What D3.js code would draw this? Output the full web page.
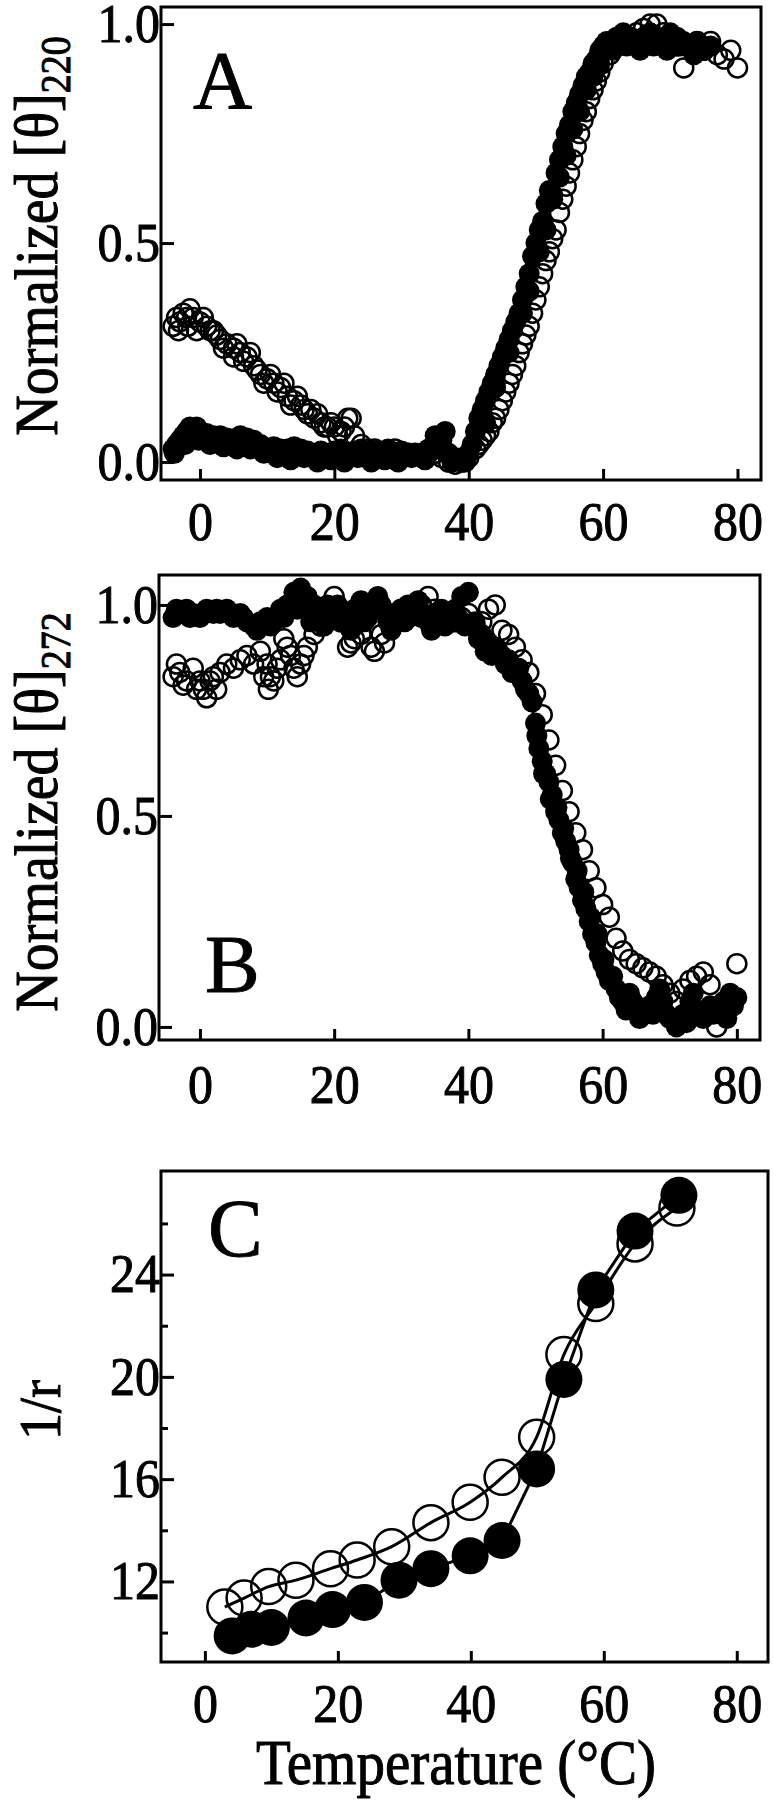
<!DOCTYPE html>
<meta charset="utf-8">
<style>
  body { margin: 0; background: #fff; }
  text { font-family: "Liberation Serif", "Times New Roman", serif; fill: #000; }
</style>
<body>
<script src="https://cdn.jsdelivr.net/npm/d3@7/dist/d3.min.js"></script>
<script>

    var width = 773,
        height = 1800;

    // panel A : [theta]220, filled and open symbols
    var tempA_filled = [-4,-3.5,-3,-2.5,-2,-1.5,-1,-0.5,0,1,2,3,4,5,6,7,8,9,10,11,12,13,14,15,16,17,18,19,20,21,22,23,24,25,26,27,28,29,30,31,32,33,34,35,36,37,38,39,40,40.5,41,41.5,42,42.5,43,43.5,44,44.5,45,45.5,46,46.5,47,47.5,48,48.5,49,49.5,50,50.5,51,51.5,52,52.5,53,53.5,54,54.5,55,55.5,56,56.5,57,57.5,58,58.5,59,59.5,60,60.5,61,62,63,64,65,66,67,68,69,70,71,72,73,74,75,76,
        -3.8,-2.2,-0.2,1.5,3.5,5.5,7.5,9.5,11.5,13.5,15.5,17.5,19.5,21.5,23.5,25.5,27.5,29.5,31.5,33.5,35.5,36.5,37.5,39.5,
        42.5,44,46,48,49,50.5,51.5,52.5,53.5,54.5,55.5,56.5,57.5,58.5,59.5,61.5,63.5,65.5,67.5,69.5,71.5,73.5];
    var valA_filled = [0.03,0.04,0.05,0.06,0.07,0.08,0.075,0.08,0.07,0.065,0.06,0.06,0.055,0.05,0.06,0.055,0.05,0.04,0.03,0.035,0.03,0.03,0.035,0.03,0.025,0.02,0.025,0.02,0.025,0.03,0.02,0.025,0.03,0.02,0.025,0.02,0.03,0.02,0.025,0.02,0.015,0.02,0.03,0.06,0.05,0.02,0.01,0.01,0.02,0.04,0.07,0.1,0.12,0.14,0.16,0.18,0.2,0.22,0.24,0.26,0.28,0.3,0.32,0.34,0.37,0.4,0.43,0.47,0.5,0.53,0.55,0.59,0.62,0.61,0.66,0.69,0.72,0.75,0.77,0.8,0.82,0.84,0.86,0.88,0.89,0.91,0.92,0.94,0.95,0.96,0.96,0.97,0.98,0.97,0.96,0.97,0.98,0.96,0.97,0.98,0.97,0.96,0.95,0.96,0.94,0.95,
        0.02,0.04,0.05,0.04,0.035,0.03,0.03,0.02,0.01,0.005,0.01,0.0,0.005,0.0,0.01,0.0,0.005,0.0,0.01,0.005,0.03,0.07,0.0,0.0,
        0.09,0.17,0.25,0.34,0.39,0.48,0.53,0.6,0.65,0.7,0.76,0.8,0.85,0.88,0.91,0.94,0.95,0.94,0.95,0.94,0.95,0.93];
    var tempA_open = [-4,-3.5,-3,-2.5,-2,-1.5,-1,0,0.5,1,2,2.5,3,4,5,5.5,6,7,7.5,8,9,10,10.5,11,12,13,14,14.5,15,16,17,17.5,18,19,20,21,22,23,24,25,26,27,28,29,30,31,32,33,34,35,36,37,38,39,40,41,41.5,42,42.5,43,43.5,44,44.5,45,45.5,46,46.5,47,47.5,48,48.5,49,49.5,50,50.5,51,51.5,52,52.5,53,53.5,54,54.5,55,55.5,56,56.5,57,57.5,58,58.5,59,59.5,60,61,62,63,64,65,66,67,68,69,70,71,72,73,74,75,76,77,78,79,80,
        -3.2,-1.8,-0.5,1.5,3.5,5,6.5,8.5,9.5,11.5,12.5,13.5,15.5,16.5,18.5,19.5,20.5,21.5,22.5];
    var valA_open = [0.31,0.33,0.32,0.34,0.33,0.35,0.33,0.32,0.33,0.31,0.3,0.29,0.28,0.27,0.26,0.27,0.25,0.24,0.25,0.22,0.2,0.19,0.2,0.18,0.17,0.15,0.14,0.15,0.13,0.11,0.1,0.11,0.09,0.08,0.08,0.07,0.1,0.06,0.04,0.03,0.03,0.02,0.02,0.03,0.02,0.02,0.02,0.015,0.02,0.02,0.01,0.0,-0.005,0.0,0.01,0.03,0.04,0.05,0.06,0.07,0.09,0.1,0.12,0.14,0.16,0.18,0.2,0.22,0.25,0.27,0.29,0.31,0.34,0.37,0.4,0.43,0.46,0.48,0.51,0.53,0.57,0.6,0.63,0.66,0.69,0.72,0.75,0.78,0.8,0.83,0.85,0.87,0.89,0.91,0.93,0.95,0.96,0.97,0.98,0.99,1.0,1.0,0.98,0.97,0.95,0.9,0.95,0.96,0.94,0.96,0.93,0.92,0.94,0.9,
        0.3,0.31,0.3,0.3,0.26,0.24,0.23,0.21,0.18,0.16,0.18,0.13,0.12,0.12,0.08,0.09,0.06,0.08,0.1];

    // panel B : [theta]272
    var tempB_filled = [-4,-3,-2,-1,0,1,2,3,4,5,6,7,8,9,10,11,12,13,14,15,16,17,18,19,20,21,22,23,24,25,26,27,28,29,30,31,32,33,34,35,36,37,38,39,40,41,42,43,44,45,46,47,48,49,50,50.5,51,51.5,52,52.5,53,53.5,54,54.5,55,55.5,56,56.5,57,57.5,58,58.5,59,59.5,60,60.5,61,62,63,64,65,66,67,68,69,70,71,72,73,74,75,76,77,78,79,80,
        -3.5,-1.5,0.5,2.5,4.5,6.5,8.5,10.5,12.5,14.5,16.5,18.5,20.5,22.5,24.5,26.5,28.5,30.5,32.5,34.5,36.5,38.5,39.5,41.5,42.5,43.5,45.5,46.5,47.5,48.5,49.5,50.2,51.2,52.2,53.2,54.2,55.2,56.2,57.2,58.2,59.2,60.2,61.5,62.5,63.5,64.5,65.5,67.5,68.5,69.5,72.5,73.5,76.5,78.5,79.5];
    var valB_filled = [0.97,0.98,0.99,0.98,0.97,0.99,0.98,0.98,0.99,0.97,0.98,0.96,0.95,0.96,0.97,0.96,0.99,1.0,1.03,1.04,1.02,1.0,0.99,1.0,0.97,0.96,0.98,0.99,1.01,0.97,0.99,1.0,0.96,0.97,0.99,1.0,0.98,0.97,0.96,0.98,0.99,0.96,0.99,1.02,1.03,0.96,0.93,0.91,0.9,0.88,0.87,0.84,0.82,0.79,0.72,0.66,0.63,0.6,0.58,0.55,0.51,0.49,0.46,0.44,0.42,0.39,0.35,0.33,0.3,0.28,0.25,0.22,0.2,0.17,0.15,0.13,0.11,0.09,0.06,0.08,0.05,0.03,0.05,0.07,0.06,0.02,0.0,0.03,0.06,0.04,0.02,0.05,0.04,0.06,0.08,0.07,
        0.99,0.97,0.98,0.99,0.98,0.97,0.94,0.95,0.97,0.99,0.96,0.95,1.0,0.94,0.96,1.02,0.94,0.96,1.01,0.94,0.95,0.97,0.95,0.92,0.89,0.88,0.86,0.84,0.85,0.8,0.77,0.69,0.6,0.54,0.52,0.47,0.4,0.37,0.32,0.26,0.22,0.16,0.12,0.07,0.04,0.06,0.02,0.03,0.09,0.03,0.01,0.08,0.03,0.02,0.05];
    var tempB_open = [-4,-3,-2,-1,0,0.5,1,2,3,4,5,6,7,8,9,10,10.5,11,12,13,13.5,14,15,16,17,18,19,20,21,22,23,24,25,26,27,28,29,30,31,32,33,34,35,36,37,38,39,40,41,42,43,44,45,46,47,48,49,50,51,52,53,54,55,56,57,58,59,60,61,62,63,64,65,66,67,68,69,70,71,72,73,74,75,76,77,78,79,80,
        -3.5,-2.5,-0.5,1.5,2.5,9.5,10.2,11.5,12.5,14.5,15.5,22.5,25.5,27.5];
    var valB_open = [0.83,0.84,0.82,0.85,0.82,0.8,0.78,0.83,0.84,0.86,0.85,0.87,0.88,0.86,0.89,0.86,0.83,0.82,0.87,0.9,0.88,0.85,0.86,0.9,0.93,0.95,0.97,1.02,0.96,0.9,0.92,0.93,0.99,0.89,0.93,0.98,0.96,0.99,0.97,0.98,1.0,1.02,0.99,0.97,0.98,0.96,0.97,0.98,0.95,0.96,0.99,1.0,0.94,0.93,0.9,0.87,0.84,0.79,0.74,0.68,0.62,0.56,0.51,0.46,0.42,0.37,0.33,0.29,0.26,0.21,0.18,0.16,0.15,0.14,0.13,0.12,0.1,0.08,0.06,0.09,0.11,0.12,0.13,0.1,0.0,0.03,0.07,0.15,
        0.86,0.81,0.8,0.82,0.8,0.83,0.8,0.85,0.92,0.83,0.88,0.91,0.9,0.91];

    // panel C : 1/r
    var tempC_filled = [4.1,7.0,10.0,15.2,19.2,24.0,29.2,34.0,39.9,44.7,49.9,54.0,58.8,64.7,71.3];
    var valC_filled = [9.87,10.13,10.2,10.57,10.9,11.18,12.05,12.5,13.0,13.6,16.4,19.9,23.4,25.7,27.1];
    var tempC_open = [3.0,5.9,9.6,13.7,18.9,22.9,28.1,34.0,39.9,44.7,49.9,54.0,58.8,64.7,71.0];
    var valC_open = [11.0,11.35,11.8,12.05,12.5,12.84,13.36,14.3,15.1,16.07,17.64,20.87,22.87,25.2,26.6];

    var xTicks = [0, 20, 40, 60, 80];
    var yTicksAB = [0, 0.5, 1];
    var yTicksC = [12, 16, 20, 24];
    var yMinorC = [10, 14, 18, 22, 26];

    var svg = d3.select("body").append("svg")
            .attr("width", width)
            .attr("height", height);

    //三个面板的位置
    var panels = [
        {left: 161, right: 761, top: 7, bottom: 480, xd: [-5.8, 83.5], yd: [-0.041, 1.039],
         letter: "A", lx: 193, ly: 108, labPad: 20, r: 10.5,
         sets: [[tempA_filled, valA_filled], [tempA_open, valA_open]],
         title: ["Normalized [θ]", "220"], ty: 236},
        {left: 159, right: 760, top: 575, bottom: 1040, xd: [-6.1, 83.45], yd: [-0.031, 1.071],
         letter: "B", lx: 205, ly: 992, labPad: 23, r: 10.5,
         sets: [[tempB_filled, valB_filled], [tempB_open, valB_open]],
         title: ["Normalized [θ]", "272"], ty: 812}
    ];

    function heavy(sel) {
        sel.style("stroke", "#000").style("stroke-width", "0.9px");
    }

    function frame(g, p) {
        g.append("rect")
            .attr("x", p.left).attr("y", p.top)
            .attr("width", p.right - p.left).attr("height", p.bottom - p.top)
            .attr("fill", "none").attr("stroke", "#000").attr("stroke-width", 3);
    }

    function styleAxis(g, size) {
        g.select(".domain").remove();
        g.selectAll(".tick line").attr("stroke", "#000").attr("stroke-width", 3);
        g.selectAll(".tick text")
            .style("font-family", "'Liberation Serif', serif")
            .style("font-size", size + "px")
            .attr("fill", "#000")
            .attr("transform", "scale(1,1.08)")
            .call(heavy);
    }

    panels.forEach(function(p) {
        var x = d3.scaleLinear().domain(p.xd).range([p.left, p.right]);
        var y = d3.scaleLinear().domain(p.yd).range([p.bottom, p.top]);
        var g = svg.append("g");

        // filled first, open circles on top
        var filled = d3.zip(p.sets[0][0], p.sets[0][1]);
        var open = d3.zip(p.sets[1][0], p.sets[1][1]);
        g.selectAll(".f").data(filled).enter().append("circle")
            .attr("cx", function(d) { return x(d[0]); })
            .attr("cy", function(d) { return y(d[1]); })
            .attr("r", p.r).attr("fill", "#000");
        g.selectAll(".o").data(open).enter().append("circle")
            .attr("cx", function(d) { return x(d[0]); })
            .attr("cy", function(d) { return y(d[1]); })
            .attr("r", p.r - 1).attr("fill", "none")
            .attr("stroke", "#000").attr("stroke-width", 2.5);

        frame(g, p);

        g.append("g").attr("transform", "translate(0," + p.bottom + ")")
            .call(d3.axisBottom(x).tickValues(xTicks).tickSize(-11).tickPadding(p.labPad)
                .tickFormat(d3.format("d")))
            .call(styleAxis, 50);
        g.append("g").attr("transform", "translate(" + p.left + ",0)")
            .call(d3.axisLeft(y).tickValues(yTicksAB).tickSize(-13).tickPadding(1)
                .tickFormat(d3.format(".1f")))
            .call(styleAxis, 50);

        g.append("text").attr("x", p.lx).attr("y", p.ly)
            .style("font-size", "82px").call(heavy).text(p.letter);

        var t = g.append("text")
            .attr("transform", "translate(57," + p.ty + ") rotate(-90) scale(1,1.1)")
            .attr("text-anchor", "middle")
            .style("font-size", "56px")
            .call(heavy);
        t.append("tspan").text(p.title[0]);
        t.append("tspan").attr("dy", 12).style("font-size", "38px").text(p.title[1]);
    });

    // panel C
    var pc = {left: 161, right: 768, top: 1171, bottom: 1662};
    var xC = d3.scaleLinear().domain([-6.6, 84.7]).range([pc.left, pc.right]);
    var yC = d3.scaleLinear().domain([8.85, 28.05]).range([pc.bottom, pc.top]);
    var gC = svg.append("g");

    var openC = d3.zip(tempC_open, valC_open);
    var filledC = d3.zip(tempC_filled, valC_filled);

    gC.selectAll(".o").data(openC).enter().append("circle")
        .attr("cx", function(d) { return xC(d[0]); })
        .attr("cy", function(d) { return yC(d[1]); })
        .attr("r", 17.5).attr("fill", "none")
        .attr("stroke", "#000").attr("stroke-width", 2.5);

    gC.append("path").datum(openC)
        .attr("fill", "none").attr("stroke", "#000").attr("stroke-width", 3)
        .attr("d", d3.line().curve(d3.curveMonotoneX)
            .x(function(d) { return xC(d[0]); })
            .y(function(d) { return yC(d[1]); }));
    gC.append("path").datum(filledC)
        .attr("fill", "none").attr("stroke", "#000").attr("stroke-width", 3)
        .attr("d", d3.line()
            .x(function(d) { return xC(d[0]); })
            .y(function(d) { return yC(d[1]); }));

    gC.selectAll(".f").data(filledC).enter().append("circle")
        .attr("cx", function(d) { return xC(d[0]); })
        .attr("cy", function(d) { return yC(d[1]); })
        .attr("r", 18.5).attr("fill", "#000");

    frame(gC, pc);

    gC.append("g").attr("transform", "translate(0," + pc.bottom + ")")
        .call(d3.axisBottom(xC).tickValues(xTicks).tickSize(-11).tickPadding(20)
            .tickFormat(d3.format("d")))
        .call(styleAxis, 50);
    gC.append("g").attr("transform", "translate(" + pc.left + ",0)")
        .call(d3.axisLeft(yC).tickValues(yTicksC).tickSize(-13).tickPadding(1)
            .tickFormat(d3.format("d")))
        .call(styleAxis, 50);
    gC.append("g").attr("transform", "translate(" + pc.left + ",0)")
        .call(d3.axisLeft(yC).tickValues(yMinorC).tickSize(-7).tickFormat(""))
        .call(styleAxis, 50);

    gC.append("text").attr("x", 208).attr("y", 1256)
        .style("font-size", "82px").call(heavy).text("C");

    gC.append("text")
        .attr("transform", "translate(60,1410) rotate(-90) scale(1,1.1)")
        .attr("text-anchor", "middle")
        .style("font-size", "54px")
        .call(heavy)
        .text("1/r");

    gC.append("text")
        .attr("transform", "translate(456,1784) scale(1,1.1)")
        .attr("text-anchor", "middle")
        .style("font-size", "57px")
        .call(heavy)
        .text("Temperature (°C)");

</script>
